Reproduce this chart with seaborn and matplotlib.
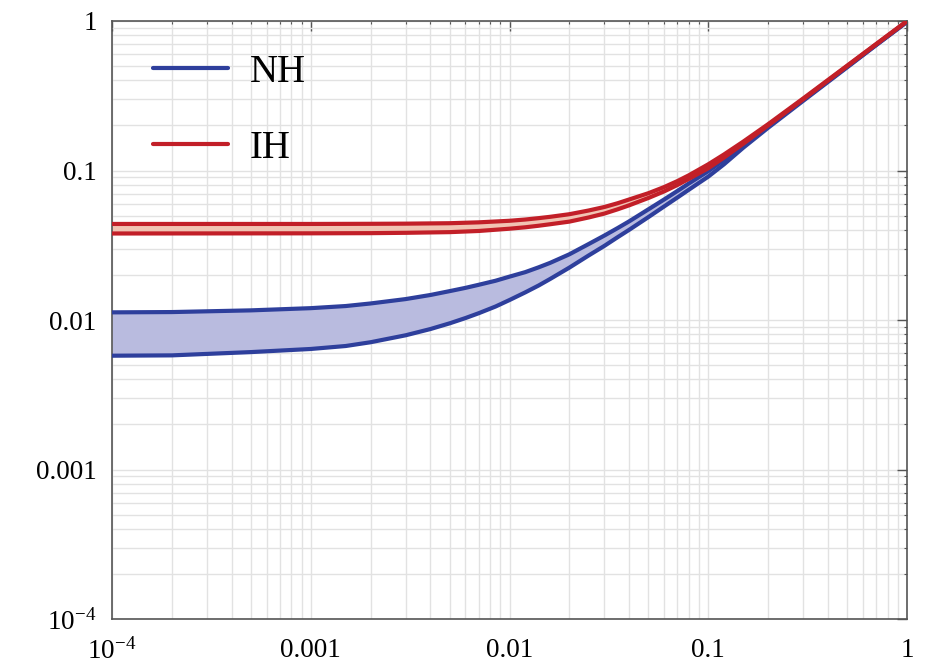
import glob
import numpy as np
import pandas as pd
import matplotlib
matplotlib.use("Agg")
import matplotlib.pyplot as plt
from matplotlib import font_manager as fm
from matplotlib.lines import Line2D
from matplotlib.ticker import LogLocator, FixedLocator, NullFormatter
import seaborn as sns

# ---- data ----
nh_x = [1e-4, 2e-4, 5e-4, 1e-3, 1.5e-3, 2e-3, 3e-3, 4e-3, 5e-3, 6e-3, 7e-3,
        8.5e-3, 0.01, 0.012, 0.014, 0.016, 0.02, 0.025, 0.03, 0.035, 0.04,
        0.05, 0.06, 0.07, 0.08, 0.1, 0.12, 0.15, 0.2, 0.3, 0.5, 0.7, 1.0]
nh_upper = [0.01125, 0.0113, 0.0116, 0.0120, 0.0124, 0.0129, 0.0138, 0.0147,
            0.0156, 0.0164, 0.0172, 0.0183, 0.0195, 0.0209, 0.0225, 0.0241,
            0.0275, 0.0322, 0.0367, 0.0412, 0.0457, 0.0550, 0.0640, 0.0730,
            0.0820, 0.0990, 0.118, 0.147, 0.197, 0.296, 0.495, 0.693, 0.99]
nh_lower = [0.00577, 0.0058, 0.0061, 0.0064, 0.0067, 0.0071, 0.0079, 0.0087,
            0.0095, 0.0103, 0.0111, 0.0123, 0.0136, 0.0153, 0.0170, 0.0188,
            0.0224, 0.0270, 0.0313, 0.0358, 0.0401, 0.0488, 0.0575, 0.0660,
            0.0745, 0.0910, 0.110, 0.142, 0.193, 0.292, 0.490, 0.690, 0.985]

ih_x = [1e-4, 1e-3, 2e-3, 3e-3, 5e-3, 7e-3, 0.01, 0.012, 0.014, 0.016, 0.02,
        0.025, 0.03, 0.035, 0.04, 0.05, 0.06, 0.07, 0.08, 0.1, 0.12, 0.15,
        0.2, 0.3, 0.5, 0.7, 1.0]
ih_upper = [0.0439, 0.0439, 0.0440, 0.0441, 0.0444, 0.0450, 0.0461, 0.0470,
            0.0480, 0.0490, 0.0510, 0.0540, 0.0570, 0.0604, 0.0640, 0.0705,
            0.0775, 0.0850, 0.0930, 0.110, 0.128, 0.156, 0.204, 0.303, 0.503,
            0.702, 1.0]
ih_lower = [0.0379, 0.0380, 0.0381, 0.0383, 0.0387, 0.0394, 0.0408, 0.0417,
            0.0427, 0.0437, 0.0455, 0.0485, 0.0515, 0.0550, 0.0585, 0.0655,
            0.0725, 0.0800, 0.0880, 0.1035, 0.122, 0.151, 0.200, 0.299, 0.499,
            0.699, 0.995]

series_labels = ["NH", "IH"]
x_tick_vals = [1e-4, 1e-3, 1e-2, 1e-1, 1.0]
x_tick_labels = [r"$10^{-4}$", "0.001", "0.01", "0.1", "1"]
y_tick_vals = [1e-4, 1e-3, 1e-2, 1e-1, 1.0]
y_tick_labels = [r"$10^{-4}$", "0.001", "0.01", "0.1", "1"]

# ---- fonts ----
for f in glob.glob("/usr/share/fonts/**/LiberationSerif*.ttf", recursive=True):
    try:
        fm.fontManager.addfont(f)
    except Exception:
        pass
names = {f.name for f in fm.fontManager.ttflist}
serif_name = next((n for n in ["Liberation Serif", "Tinos", "Times New Roman",
                               "DejaVu Serif"] if n in names), "DejaVu Serif")

sns.set_style("white")
plt.rcParams["font.family"] = [serif_name, "DejaVu Serif"]
plt.rcParams["mathtext.fontset"] = "custom"
plt.rcParams["mathtext.rm"] = serif_name
plt.rcParams["mathtext.it"] = serif_name + ":italic"
plt.rcParams["text.color"] = "black"

blue = "#2e3f9c"
red = "#c21f28"
blue_fill = "#b9bbdf"
red_fill = "#f1c3b3"

fig = plt.figure(figsize=(9.26, 6.66), dpi=100)
ax = fig.add_axes([112 / 926, 1 - 619 / 666, 795 / 926, 598 / 666])

nh = pd.DataFrame({"x": nh_x, "upper": nh_upper, "lower": nh_lower})
ih = pd.DataFrame({"x": ih_x, "upper": ih_upper, "lower": ih_lower})

ax.fill_between(nh["x"], nh["lower"], nh["upper"], color=blue_fill, lw=0, zorder=2)
ax.fill_between(ih["x"], ih["lower"], ih["upper"], color=red_fill, lw=0, zorder=2)

lw = 3.0
for df, c in [(nh, blue), (ih, red)]:
    for col in ["upper", "lower"]:
        sns.lineplot(data=df, x="x", y=col, color=c, lw=lw, ax=ax, zorder=3,
                     sort=True, estimator=None, solid_capstyle="round",
                     solid_joinstyle="round")

ax.set_xscale("log")
ax.set_yscale("log")
ax.set_xlim(1e-4, 1)
ax.set_ylim(1e-4, 1)
ax.set_xlabel("")
ax.set_ylabel("")

ax.xaxis.set_major_locator(FixedLocator(x_tick_vals))
ax.yaxis.set_major_locator(FixedLocator(y_tick_vals))
ax.set_xticklabels(x_tick_labels)
ax.set_yticklabels(y_tick_labels)
ax.xaxis.set_minor_locator(LogLocator(base=10, subs=np.arange(2, 10), numticks=20))
ax.yaxis.set_minor_locator(LogLocator(base=10, subs=np.arange(2, 10), numticks=20))
ax.xaxis.set_minor_formatter(NullFormatter())
ax.yaxis.set_minor_formatter(NullFormatter())

ax.grid(True, which="both", color="#e2e2e2", lw=1.0, zorder=0)
ax.set_axisbelow(True)

ax.tick_params(which="both", direction="in", top=True, right=True,
               colors="#555555", labelcolor="black")
ax.tick_params(which="major", length=7, width=1.0, labelsize=19.5)
ax.tick_params(which="minor", length=2.5, width=0.8)
ax.tick_params(axis="x", which="major", pad=14)
ax.tick_params(axis="y", which="major", pad=11)

for s in ax.spines.values():
    s.set_color("#555555")
    s.set_linewidth(1.2)
    s.set_visible(True)

handles = [Line2D([], [], color=blue, lw=3.0), Line2D([], [], color=red, lw=3.0)]
leg = ax.legend(handles, series_labels, loc="upper left",
                bbox_to_anchor=(0.051, 0.945), frameon=False, fontsize=28,
                handlelength=1.95, handletextpad=0.55, labelspacing=1.0,
                borderpad=0, borderaxespad=0, labelcolor="black")

fig.savefig("out.png", dpi=100)
